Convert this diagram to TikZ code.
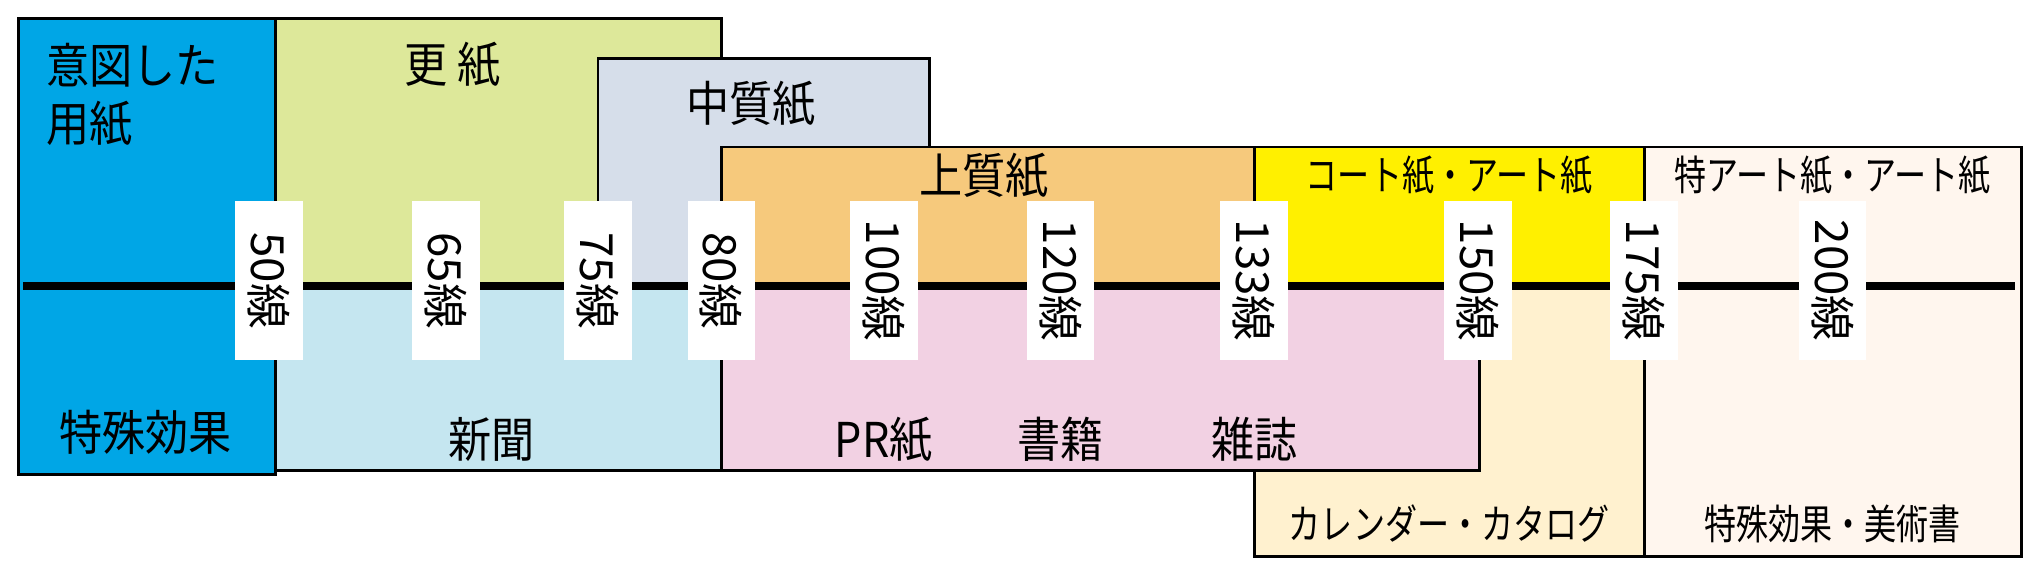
\documentclass[tikz,border=0pt]{standalone}
\usepackage{fontspec}
\setmainfont{Noto Sans CJK JP}
\usetikzlibrary{positioning}
\definecolor{mblue}{HTML}{00A6E6}
\definecolor{mgreen}{HTML}{DDE89A}
\definecolor{mgrey}{HTML}{D6DEEA}
\definecolor{morange}{HTML}{F6C97C}
\definecolor{mlblue}{HTML}{C5E6F0}
\definecolor{mpink}{HTML}{F2D1E3}
\definecolor{myellow}{HTML}{FFF000}
\definecolor{mcream}{HTML}{FFF1CF}
\definecolor{mpeach}{HTML}{FFF6EE}
\tikzset{box/.style = {draw, line width = 1.2pt},
  lbl/.style = {font=\fontsize{21}{25}\selectfont, xscale=0.9},
  slbl/.style = {font=\fontsize{18}{22}\selectfont, xscale=0.78},
  tag/.style = {fill=white, rotate=-90, minimum width=2.44cm, minimum height=1.04cm, inner sep=0, font=\fontsize{20}{24}\selectfont}}

\begin{document}
\begin{tikzpicture}[x=0.02cm, y=-0.02cm]
    \useasboundingbox (0, 0) rectangle (1568, 437);
    % paper areas
    \draw [box, fill=mgreen] (212, 14) rectangle (555, 220);
    \draw [box, fill=mlblue] (212, 220) rectangle (555, 362);
    \draw [box, fill=mgrey] (460, 45) rectangle (715, 220);
    \draw [box, fill=morange] (555, 113) rectangle (965, 220);
    \draw [box, fill=mcream] (965, 220) rectangle (1265, 428);
    \draw [box, fill=mpink] (555, 220) rectangle (1138, 362);
    \draw [box, fill=myellow] (965, 113) rectangle (1265, 220);
    \draw [box, fill=mpeach] (1265, 113) rectangle (1555, 428);
    \draw [box, fill=mblue] (14, 14) rectangle (212, 365);

    \node [lbl, anchor=west] (intent1) at (30, 50) {意図した};
    \node [lbl, anchor=west] (intent2) at (30, 95) {用紙};
    \node [lbl] (special) at (112, 333) {特殊効果};
    \node [lbl] (sara) at (348, 50) {更\ 紙};
    \node [lbl] (chu) at (578, 80) {中質紙};
    \node [lbl] (jo) at (757, 135) {上質紙};
    \node [slbl] (coat) at (1115, 135) {コート紙・アート紙};
    \node [slbl] (tokuart) at (1410, 135) {特アート紙・アート紙};
    \node [lbl] (news) at (378, 338) {新聞};
    \node [lbl] (pr) at (680, 338) {PR紙};
    \node [lbl] (book) at (816, 338) {書籍};
    \node [lbl] (mag) at (965, 338) {雑誌};
    \node [slbl] (cal) at (1115, 403) {カレンダー・カタログ};
    \node [slbl] (art) at (1410, 403) {特殊効果・美術書};

    % screen ruling
    \coordinate (l0) at (18, 220);
    \coordinate (l1) at (1550, 220);
    \draw [line width=3.5pt] (l0) -- (l1);
    \foreach \x/\lpi in {207/50, 343/65, 460/75, 555/80, 680/100, 816/120, 965/133, 1137/150, 1265/175, 1410/200}
      \node [tag] (t\lpi) at (\x, 216) {\lpi{}線};
\end{tikzpicture}
\end{document}
